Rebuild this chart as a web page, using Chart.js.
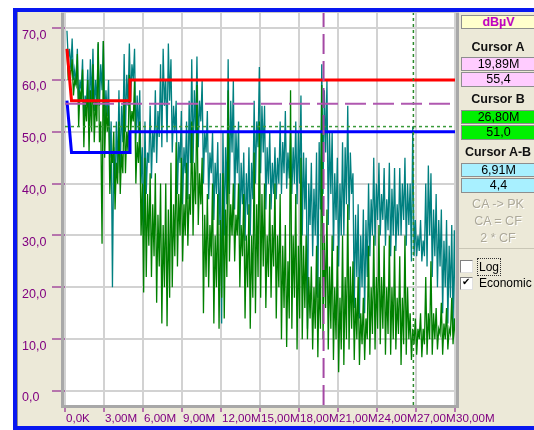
<!DOCTYPE html>
<html><head><meta charset="utf-8">
<script src="https://cdn.jsdelivr.net/npm/chart.js@4.4.1/dist/chart.umd.min.js"></script>
<style>
html,body{margin:0;padding:0;width:534px;height:430px;overflow:hidden;background:#fff;}
#wrap{position:relative;width:534px;height:430px;}
canvas{position:absolute;left:0;top:0;}
.f{font-family:'Liberation Sans',Arial,sans-serif;}
.box{position:absolute;left:461px;width:75px;border:1px solid #8e8e8e;box-sizing:border-box;text-align:center;font-size:12.5px;color:#000;}
.lbl{position:absolute;left:459px;width:78px;text-align:center;font-weight:bold;font-size:12.5px;color:#111;line-height:13px;}
.btn{position:absolute;left:460px;width:76px;text-align:center;font-size:12.5px;color:#ACA899;text-shadow:1px 1px 0 #fff;line-height:15px;}
.cb{position:absolute;left:460px;width:11px;height:11px;background:#fff;border:1px solid #808080;border-color:#808080 #e0e0e0 #e0e0e0 #808080;}
.cbt{position:absolute;left:479px;font-size:12px;color:#000;line-height:13px;}
</style></head>
<body><div id="wrap">
<canvas id="c" width="534" height="430"></canvas>
<div class="box f" style="top:15px;height:14px;background:#FFFFCC;color:#C000C0;font-weight:bold;font-size:12.5px;line-height:12px;">dBµV</div>
<div class="lbl f" style="top:41px;">Cursor A</div>
<div class="box f" style="top:57px;height:14px;background:#FFCCFF;line-height:12px;">19,89M</div>
<div class="box f" style="top:72px;height:15px;background:#FFCCFF;line-height:13px;">55,4</div>
<div class="lbl f" style="top:93px;">Cursor B</div>
<div class="box f" style="top:110px;height:14px;background:#00F000;line-height:12px;">26,80M</div>
<div class="box f" style="top:125px;height:15px;background:#00F000;line-height:13px;">51,0</div>
<div class="lbl f" style="top:146px;">Cursor A-B</div>
<div class="box f" style="top:163px;height:14px;background:#A8F0FF;line-height:12px;">6,91M</div>
<div class="box f" style="top:178px;height:15px;background:#A8F0FF;line-height:13px;">4,4</div>
<div class="btn f" style="top:197px;">CA -&gt; PK</div>
<div class="btn f" style="top:214px;">CA = CF</div>
<div class="btn f" style="top:231px;">2 * CF</div>
<div style="position:absolute;left:459px;top:248px;width:76px;height:1px;background:#C9C6B6;"></div>
<div class="cb" style="top:260px;"></div>
<div class="cbt f" style="top:261px;"><span style="outline:1px dotted #333;outline-offset:1px;">Log</span></div>
<div class="cb" style="top:277px;"><span style="position:absolute;left:1px;top:-2px;font:bold 10px 'DejaVu Sans';color:#000;">✔</span></div>
<div class="cbt f" style="top:277px;">Economic</div>
</div>
<script>
// ---- data (dBµV, one high/low pair per 0.2 MHz column) ----
const freqStartMHz = 0.15;
const freqStepMHz = 0.2;
const peakHigh = [69.5,66,68,62,66,60,64,57,62,64, 66,60,67,63,67.5,58,60,52,47,52, 58,55,65,61,67,63,66,57,58,47, 52,46,55,50,58,54,63,66,60,67, 64,55,56,48,54,47,52,56,64,58, 64.5,56,60,50,54,46,50,44,48,42, 50,47,64,56,60,50,52,44,46,42, 47,44,56,52,62.5,55,55,47,50,44, 47,45,52,48,54,46,50,47,52,50, 57,46,45,40,44,39,46,48,63,58, 60,50,50,42,45,40,48,47,55,46, 42,34,36,30,35,33,40,37,45,40, 44,38,43,37,44,39,43,36,43,40, 45,40,40,51,33,30,33,29,40,43.5, 42,35,38,33,35,29,33,28,32,31];
const peakLow  = [64,62,60,59,55,58,52,55,52,56, 54,55,55,58,52,53,45,20,38,42, 42,48,50,55,56,60,48,50,40,30, 38,44,41,46,44,49,47,55,48,56, 46,50,38,44,36,42,37,44,44,50, 47,52,40,46,37,42,33,38,32,13, 30,36,38,46,35,42,30,36,29,34, 30,37,40,47,42,46,35,40,35,38, 37,40,38,42,39,41,38,40,36,40, 30,35,12,32,26,30,18,35,38,46, 32,38,27,33,24,30,30,36,33,38, 16,22,14,20,15,22,26,30,28,33, 30,33,28,31,26,30,27,30,30,33, 28,32,25,26,26,27,25,26,24,30, 22,26,20,24,15,20,13,18,12,14];
const avgHigh  = [66,62,64,60,65,58,62,56,60,58, 63,56,67.3,52,67.5,55,55,46,50,44, 52,46,56,50,61,54,60,48,52,40, 45,38,42,36,42,34,40,32,40,35, 44,36,48,38,45,36,44,38,52,44, 59,42,45,34,38,32,40,30,38,33, 42,35,58,36,40,34,40,32,38,30, 36,30,46,36,52,38,40,30,38,32, 40,30,38,28,32,25,58,30,38,28, 45,28,30,22,24,20,28,22,59,30, 35,24,30,20,28,18,30,22,36,24, 25,18,22,15,18,14,28,20,30,22, 32,22,28,20,30,20,28,18,26,18, 30,20,15,12,14,12,15,12,22,15, 25,15,16,12,17,13,16,12,18,14];
const avgLow   = [60,61,57,59,51,56,47,52,46,50, 48,52,48,28.4,45,50,38,44,35,40, 38,42,42,46,50,52,40,44,30,19, 22,28,22,26,17,24,13,20,12.5,18, 20,26,24,30,25,30,28,34,30,36, 32,36,15,22,20,26,13,20,12,18, 14,22,25,30,25,30,20,26,14,20, 12,18,15,22,18,24,16,22,18,24, 14,20,10,16,8.5,14,12,18,8,14, 10,16,10,14,8,12,6.5,12,10,16, 8,12,6,10,3.6,8,5,10,8,12, 6,10,5,9,6,10,7,11,8,12, 9,12,7,11,7,10,8,11,5,9, 7,10,6,9,7,10,6.5,9,7,10, 7,10,8,11,7,10,8,11,9,10];
const qpLimitFreq = [0.15, 0.5, 5, 5, 30];
const qpLimitVal  = [66, 56, 56, 60, 60];
const avLimitFreq = [0.15, 0.5, 5, 5, 30];
const avLimitVal  = [56, 46, 46, 50, 50];
const cursorA = {freq: 19.89, level: 55.4};
const cursorB = {freq: 26.80, level: 51.0};
const xTickValues = [0,3,6,9,12,15,18,21,24,27,30];
const xTickLabels = ['0,0K','3,00M','6,00M','9,00M','12,00M','15,00M','18,00M','21,00M','24,00M','27,00M','30,00M'];
const yTickValues = [0,10,20,30,40,50,60,70];
const yTickLabels = ['0,0','10,0','20,0','30,0','40,0','50,0','60,0','70,0'];
const yMin = -2.7, yMax = 73.1;

// interleave each column's high and low into one trace
const trace = (hi, lo) => {
  const out = [];
  hi.forEach((h, i) => {
    const f = freqStartMHz + i * freqStepMHz;
    out.push({x: f, y: h});
    out.push({x: f + freqStepMHz / 2, y: lo[i]});
  });
  return out;
};
const pairs = (fs, vs) => fs.map((f,i)=>({x:f, y:vs[i]}));

const purple = '#800080';
const axisFont = "'Liberation Sans', Arial, sans-serif";

const frame = {
  id:'frame',
  beforeDraw(c){
    const g=c.ctx, a=c.chartArea;
    g.save();
    g.fillStyle='#fff'; g.fillRect(0,0,534,430);
    g.fillStyle='#ECE9D8'; g.fillRect(17,12,517,414);
    g.fillStyle='#fff'; g.fillRect(a.left-1,a.top,a.right-a.left+2,a.bottom-a.top);
    g.fillStyle='#0818F0';
    g.fillRect(13,8,521,4);
    g.fillRect(13,8,4,422);
    g.fillRect(13,426,521,4);
    g.fillStyle='#8c8c8c'; g.fillRect(17,12,1,414);
    g.restore();
  },
  afterDraw(c){
    const g=c.ctx, a=c.chartArea;
    g.save();
    g.fillStyle='#A8A8A8';
    g.fillRect(a.left-4,a.top,3,a.bottom-a.top+3);
    g.fillRect(a.left-4,a.bottom,a.right-a.left+8,3);
    g.fillRect(a.right+1,a.top,3,a.bottom-a.top);
    g.fillStyle='#C8C8C8';
    g.fillRect(a.left-4,a.top,a.right-a.left+8,1);
    g.restore();
  }
};

new Chart(document.getElementById('c'), {
  type:'line',
  data:{datasets:[
    {data:[{x:cursorA.freq,y:yMin},{x:cursorA.freq,y:yMax}], borderColor:'#A448A4', borderWidth:2, borderDash:[20,7], pointRadius:0, order:0},
    {data:[{x:0,y:cursorA.level},{x:30,y:cursorA.level}], borderColor:'#B058B0', borderWidth:2, borderDash:[21,7], pointRadius:0, order:0},
    {data:[{x:cursorB.freq,y:yMin},{x:cursorB.freq,y:yMax}], borderColor:'#2A8A2A', borderWidth:1.5, borderDash:[3,3], pointRadius:0, order:0},
    {data:[{x:0,y:cursorB.level},{x:30,y:cursorB.level}], borderColor:'#3A9A3A', borderWidth:1.5, borderDash:[3,3], pointRadius:0, order:0},
    {data:pairs(qpLimitFreq,qpLimitVal), borderColor:'#FF0000', borderWidth:3, pointRadius:0, order:1},
    {data:pairs(avLimitFreq,avLimitVal), borderColor:'#0000FF', borderWidth:3, pointRadius:0, order:1},
    {data:trace(avgHigh, avgLow), borderColor:'#008000', borderWidth:1.3, pointRadius:0, order:2},
    {data:trace(peakHigh, peakLow), borderColor:'#008080', borderWidth:1.3, pointRadius:0, order:3}
  ]},
  options:{
    responsive:false, animation:false, events:[],
    layout:{padding:{left:22,right:79,top:12,bottom:3}},
    plugins:{legend:{display:false},tooltip:{enabled:false}},
    scales:{
      x:{type:'linear',min:0,max:30,
        afterFit:s=>{s.height=22;},
        afterBuildTicks:s=>{s.ticks=xTickValues.map(v=>({value:v}));},
        ticks:{callback:(v,i)=>xTickLabels[i],align:'start',autoSkip:false,maxRotation:0,color:purple,font:{family:axisFont,size:11.6,lineHeight:1.1},padding:0,labelOffset:1},
        grid:{color:'#D2D2D2',lineWidth:2,tickColor:purple,tickLength:7,tickWidth:1},
        border:{display:false}},
      y:{type:'linear',min:yMin,max:yMax,
        afterFit:s=>{s.width=43;},
        afterBuildTicks:s=>{s.ticks=yTickValues.map(v=>({value:v}));},
        ticks:{callback:(v,i)=>yTickLabels[i],crossAlign:'far',labelOffset:7,color:purple,font:{family:axisFont,size:12.5,lineHeight:1},padding:2},
        grid:{color:'#D2D2D2',lineWidth:2,tickColor:purple,tickLength:13,tickWidth:1},
        border:{display:false}}
    }
  },
  plugins:[frame]
});
</script>
</body></html>
